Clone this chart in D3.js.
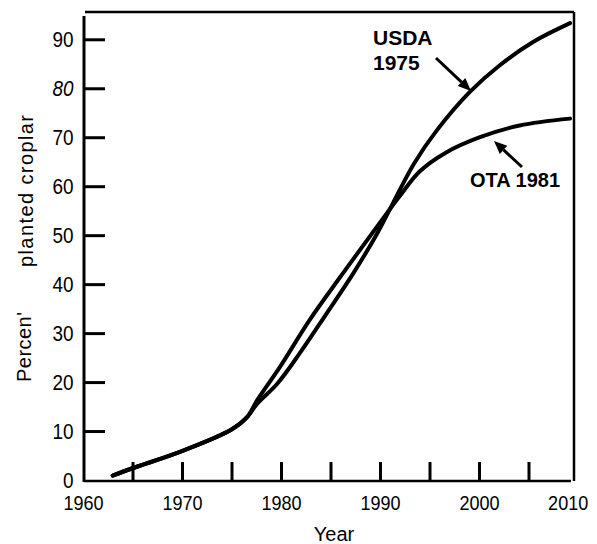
<!DOCTYPE html>
<html><head><meta charset="utf-8">
<script src="https://cdn.jsdelivr.net/npm/d3@7"></script>
<style>
html,body{margin:0;padding:0;background:#fff;}
svg text{font-family:"Liberation Sans",Arial,Helvetica,sans-serif;fill:#000;}
</style>
</head><body>
<svg id="chart" width="597" height="544"></svg>
<script>
// ---- data ----
const otaYears  = [1963, 1965, 1970, 1975, 1976.6, 1977.6, 1979.9, 1982.9, 1986.0, 1988.7, 1990.7, 1992.0, 1994.0, 1996.6, 2000.1, 2004.1, 2009.2];
const otaValues = [0.9, 2.4, 5.9, 10.3, 12.9, 16.3, 23.1, 32.7, 41.5, 49.0, 54.5, 58.0, 63.0, 66.8, 70.0, 72.4, 73.8];
const usdaYears  = [1963, 1965, 1970, 1975, 1976.6, 1977.6, 1979.6, 1981.9, 1984.6, 1987.3, 1989.7, 1991.3, 1993.4, 1995.7, 1999.1, 2002.1, 2005.5, 2009.2];
const usdaValues = [0.9, 2.4, 5.9, 10.3, 12.9, 15.6, 19.6, 25.9, 34.0, 42.2, 50.3, 56.5, 64.5, 71.3, 79.3, 84.7, 89.5, 93.3];
const xTickValues = [1965, 1970, 1975, 1980, 1985, 1990, 1995, 2000, 2005];
const xLabelValues = [1960, 1970, 1980, 1990, 2000, 2010];
const yTickValues = [10, 20, 30, 40, 50, 60, 70, 80, 90];
const yLabelValues = [0, 10, 20, 30, 40, 50, 60, 70, 80, 90];
const seriesNames = ["USDA\n1975", "OTA 1981"];
const xTitle = "Year";
const yTitleParts = ["Percen'", "planted croplar"];

// ---- scales ----
const svg = d3.select("#chart");
const x = d3.scaleLinear().domain([1960, 2010]).range([83, 578]);
const y = d3.scaleLinear().domain([0, 90]).range([480, 39.3]);
const axisY0 = 481, leftX = 84, rightX = 574, topY = 12;
const NARROW = 0.86;

// frame
svg.append("line").attr("x1", 85).attr("x2", rightX).attr("y1", topY).attr("y2", topY)
  .attr("stroke", "#000").attr("stroke-width", 2.5);
svg.append("line").attr("x1", rightX).attr("x2", rightX).attr("y1", topY).attr("y2", axisY0)
  .attr("stroke", "#000").attr("stroke-width", 2.5);
svg.append("line").attr("x1", leftX).attr("x2", leftX).attr("y1", 16).attr("y2", axisY0 + 1)
  .attr("stroke", "#000").attr("stroke-width", 3);
svg.append("line").attr("x1", leftX).attr("x2", 571).attr("y1", axisY0).attr("y2", axisY0)
  .attr("stroke", "#000").attr("stroke-width", 2.5);

// x ticks (inward, upward)
const gx = svg.append("g").attr("transform", `translate(0,${axisY0})`)
  .call(d3.axisTop(x).tickValues(xTickValues).tickSize(19).tickFormat(""));
gx.select(".domain").remove();
gx.selectAll(".tick line").attr("stroke-width", 3);

// x labels
const gxl = svg.append("g").attr("transform", `translate(0,${axisY0})`)
  .call(d3.axisBottom(x).tickValues(xLabelValues).tickSize(0).tickPadding(0).tickFormat(d3.format("d")));
gxl.select(".domain").remove();
gxl.selectAll(".tick text").attr("font-size", 21).attr("dy", null).attr("y", 29)
  .attr("x", d => d === 2010 ? -12 : 0)
  .attr("transform", `scale(${NARROW},1)`);

// y ticks (inward, right)
const gy = svg.append("g").attr("transform", `translate(${leftX},0)`)
  .call(d3.axisRight(y).tickValues(yTickValues).tickSize(21).tickFormat(""));
gy.select(".domain").remove();
gy.selectAll(".tick line").attr("stroke-width", 3);

// y labels
const gyl = svg.append("g").attr("transform", `translate(${leftX},0)`)
  .call(d3.axisLeft(y).tickValues(yLabelValues).tickSize(0).tickPadding(0).tickFormat(d3.format("d")));
gyl.select(".domain").remove();
gyl.selectAll(".tick text").attr("font-size", 22).attr("x", -10.5 / NARROW)
  .attr("transform", `scale(${NARROW},1)`)
  .attr("font-style", d => d === 80 ? "italic" : "normal")
  .attr("fill", d => d <= 10 ? "#333" : "#000");

// titles
svg.append("text").attr("x", 334).attr("y", 541).attr("text-anchor", "middle")
  .attr("font-size", 20).text(xTitle);
svg.append("text").attr("transform", "translate(31,382) rotate(-90)")
  .attr("font-size", 20).attr("textLength", 70).text(yTitleParts[0]);
svg.append("text").attr("transform", "translate(33,267) rotate(-90)")
  .attr("font-size", 20).attr("textLength", 152).text(yTitleParts[1]);

// lines
const line = d3.line().x(d => x(d[0])).y(d => y(d[1])).curve(d3.curveCatmullRom.alpha(0.5));
const otaData = otaYears.map((yr, i) => [yr, otaValues[i]]);
const usdaData = usdaYears.map((yr, i) => [yr, usdaValues[i]]);
[usdaData, otaData].forEach(d => {
  svg.append("path").datum(d).attr("d", line).attr("fill", "none")
    .attr("stroke", "#000").attr("stroke-width", 4).attr("stroke-linecap", "round");
});

// annotations
function arrow(x1, y1, x2, y2) {
  const ang = Math.atan2(y2 - y1, x2 - x1);
  const L = 13, W = 5.5;
  const bx = x2 - L * Math.cos(ang), by = y2 - L * Math.sin(ang);
  svg.append("line").attr("x1", x1).attr("y1", y1).attr("x2", bx).attr("y2", by)
    .attr("stroke", "#000").attr("stroke-width", 3);
  const px = -Math.sin(ang), py = Math.cos(ang);
  svg.append("path").attr("d", `M${x2},${y2}L${bx + px * W},${by + py * W}L${bx - px * W},${by - py * W}Z`)
    .attr("fill", "#000");
}
const usdaLines = seriesNames[0].split("\n");
svg.append("text").attr("x", 373).attr("y", 45).attr("font-size", 21).attr("font-weight", "bold").text(usdaLines[0]);
svg.append("text").attr("x", 373).attr("y", 70).attr("font-size", 21).attr("font-weight", "bold").text(usdaLines[1]);
arrow(436, 58, 471, 91);
svg.append("text").attr("x", 470).attr("y", 187).attr("font-size", 20).attr("font-weight", "bold").text(seriesNames[1]);
arrow(522, 167, 494, 141);
</script>
</body></html>
